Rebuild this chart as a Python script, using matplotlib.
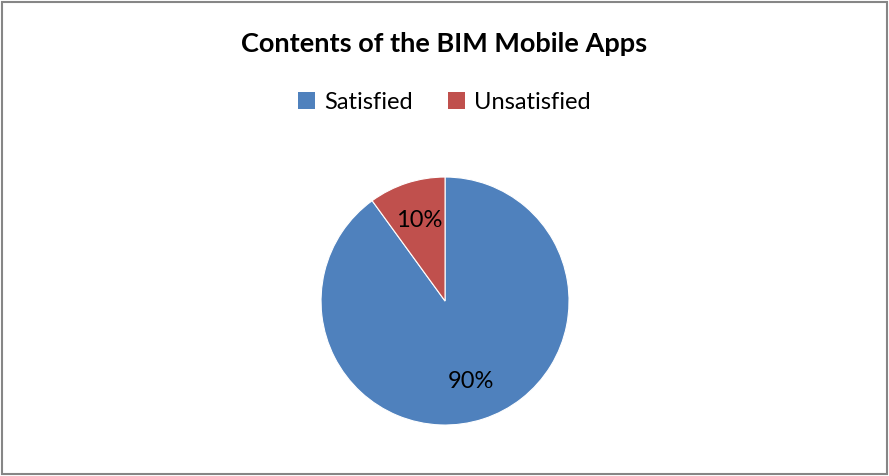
import matplotlib.pyplot as plt
from matplotlib.patches import Rectangle, Patch

plt.rcParams['font.family'] = ['Lato', 'DejaVu Sans']

labels = ["Satisfied", "Unsatisfied"]
values = [90, 10]
colors = ["#4F81BD", "#C0504D"]
title = "Contents of the BIM Mobile Apps"

fig = plt.figure(figsize=(8.89, 4.76), dpi=100)

# pie axes, sized so the circle sits where it does in the reference
ax = fig.add_axes([0.3611, 0.1071, 0.279, 0.521])
wedges, texts, autotexts = ax.pie(
    values, colors=colors, startangle=90, counterclock=False,
    autopct='%1.0f%%', pctdistance=0.68, radius=1,
    wedgeprops=dict(edgecolor='white', linewidth=0.8),
    textprops=dict(fontsize=17, color='black'))
ax.set_xlim(-1, 1)
ax.set_ylim(-1, 1)
ax.set_aspect('equal')

fig.text(0.5, 0.9076, title, ha='center', va='center',
         fontsize=19.5, fontweight='bold')

handles = [Patch(facecolor=c, edgecolor='none') for c in colors]
fig.legend(handles, labels, loc='center', bbox_to_anchor=(0.5, 0.785),
           ncol=2, frameon=False, fontsize=17, handlelength=0.7,
           handleheight=0.7, handletextpad=0.4, columnspacing=1.5)

# outer chart border
fig.patches.append(Rectangle((0.002, 0.004), 0.996, 0.992, transform=fig.transFigure,
                             fill=False, edgecolor='#868686', linewidth=1.5))

fig.savefig("out.png", dpi=100)
